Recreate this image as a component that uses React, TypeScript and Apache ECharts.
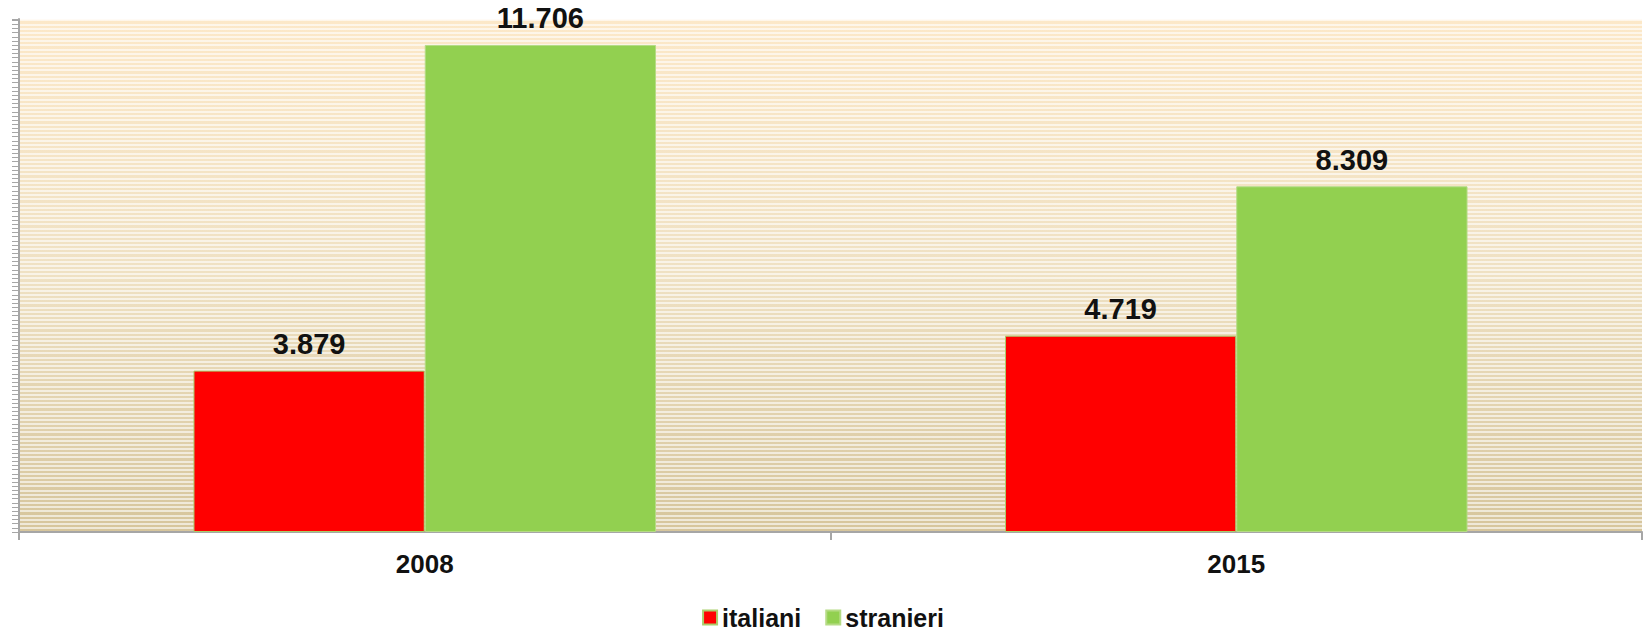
import React, { useEffect, useRef } from "react";
import * as echarts from "echarts";

const categories = ["2008", "2015"];
const italiani = [3879, 4719];
const stranieri = [11706, 8309];
const seriesNames = ["italiani", "stranieri"];

const fmt = (v: number) => String(Math.round(v)).replace(/\B(?=(\d{3})+(?!\d))/g, ".");

export default function App() {
  const ref = useRef<HTMLDivElement>(null);
  useEffect(() => {
    document.body.style.margin = "0";
    const chart = echarts.init(ref.current!, null, { renderer: "svg" });
    const font = "'Liberation Sans', Arial, sans-serif";
    const label = {
      show: true,
      position: "top" as const,
      distance: 12,
      fontFamily: font,
      fontWeight: "bold" as const,
      fontSize: 29,
      color: "#111",
      formatter: (p: any) => fmt(p.value),
    };
    chart.setOption({
      animation: false,
      grid: {
        left: 19,
        right: 4,
        top: 19,
        bottom: 99,
        show: true,
        borderWidth: 0,
        backgroundColor: {
          type: "linear",
          x: 0,
          y: 0,
          x2: 0,
          y2: 1,
          colorStops: [
            { offset: 0, color: "#FCE8C8" },
            { offset: 0.5, color: "#EFE1C3" },
            { offset: 1, color: "#D6C59C" },
          ],
        },
      },
      legend: {
        top: 605,
        left: "center",
        itemWidth: 14,
        itemHeight: 14,
        itemGap: 24,
        icon: "rect",
        padding: 0,
        textStyle: { fontFamily: font, fontWeight: "bold", fontSize: 25, color: "#111" },
        data: seriesNames,
      },
      xAxis: {
        type: "category",
        data: categories,
        axisLine: { lineStyle: { color: "#A6A6A6", width: 2 } },
        axisTick: { show: true, length: 8, lineStyle: { color: "#A6A6A6", width: 2 } },
        axisLabel: {
          fontFamily: font,
          fontWeight: "bold",
          fontSize: 26,
          color: "#111",
          margin: 19,
        },
      },
      yAxis: {
        type: "value",
        min: 0,
        max: 12330,
        interval: 100,
        axisLine: { show: true, lineStyle: { color: "#A6A6A6", width: 2 } },
        axisTick: { show: true, length: 7, lineStyle: { color: "#A6A6A6", width: 1 } },
        axisLabel: { show: false },
        splitLine: { show: true, lineStyle: { color: "rgba(255,255,255,0.6)", width: 2 } },
      },
      series: [
        {
          name: seriesNames[0],
          type: "bar",
          data: italiani,
          barWidth: "28.5%",
          barGap: "0%",
          itemStyle: { color: "#FF0000", borderColor: "#A9CF6C", borderWidth: 1 },
          label,
        },
        {
          name: seriesNames[1],
          type: "bar",
          data: stranieri,
          barWidth: "28.5%",
          barGap: "0%",
          itemStyle: { color: "#92D050", borderColor: "#B5DB85", borderWidth: 1 },
          label,
        },
      ],
    });
    return () => chart.dispose();
  }, []);
  return <div ref={ref} style={{ width: 1646, height: 631 }} />;
}
